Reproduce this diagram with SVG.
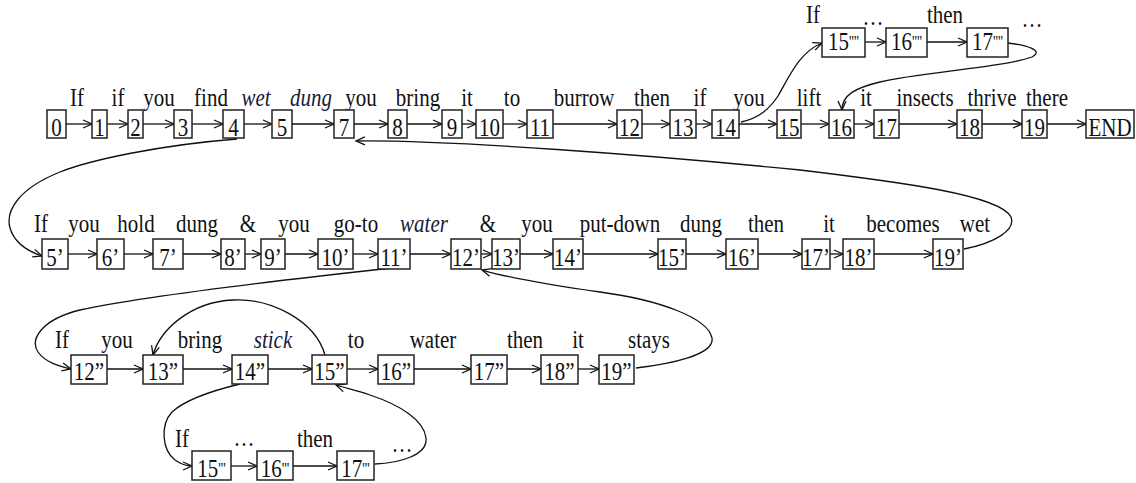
<svg xmlns="http://www.w3.org/2000/svg" width="1136" height="483" viewBox="0 0 1136 483">
<style>
.bg{fill:#fff}
rect.b{fill:#fff;stroke:#222;stroke-width:1.5}
text{font-family:"Liberation Serif","Times New Roman",serif;fill:#111;text-anchor:middle}
.w{font-size:21px}
.i{font-style:italic;fill:#1a1a3a}
.n{font-size:21px}
.p{font-size:14px}
.c path,.c line{fill:none;stroke:#111;stroke-width:1.3}
</style>
<defs>
<marker id="ah" markerUnits="userSpaceOnUse" markerWidth="12" markerHeight="12" refX="10" refY="5" orient="auto">
<path d="M1,1 L10,5 L1,9" fill="none" stroke="#111" stroke-width="1.3"/>
</marker>
</defs>
<rect class="bg" x="0" y="0" width="1136" height="483"/>

<g id="connectors" class="c">
<g marker-end="url(#ah)">
<!-- row 1 -->
<line x1="66" y1="124" x2="92" y2="124"/>
<line x1="107" y1="124" x2="128" y2="124"/>
<line x1="143" y1="124" x2="174" y2="124"/>
<line x1="192" y1="124" x2="223" y2="124"/>
<line x1="244" y1="124" x2="272" y2="124"/>
<line x1="292" y1="124" x2="334" y2="124"/>
<line x1="354" y1="124" x2="388" y2="124"/>
<line x1="407" y1="124" x2="442" y2="124"/>
<line x1="462" y1="124" x2="476" y2="124"/>
<line x1="503" y1="124" x2="527" y2="124"/>
<line x1="553" y1="124" x2="617" y2="124"/>
<line x1="642" y1="124" x2="670" y2="124"/>
<line x1="696" y1="124" x2="712" y2="124"/>
<line x1="739" y1="124" x2="777" y2="124"/>
<line x1="801" y1="124" x2="829" y2="124"/>
<line x1="854" y1="124" x2="874" y2="124"/>
<line x1="899" y1="124" x2="957" y2="124"/>
<line x1="982" y1="124" x2="1022" y2="124"/>
<line x1="1047" y1="124" x2="1086" y2="124"/>
<!-- top -->
<line x1="865" y1="42" x2="886" y2="42"/>
<line x1="927" y1="42" x2="967" y2="42"/>
<!-- row 2 -->
<line x1="68" y1="254" x2="97" y2="254"/>
<line x1="124" y1="254" x2="153" y2="254"/>
<line x1="183" y1="254" x2="221" y2="254"/>
<line x1="245" y1="254" x2="261" y2="254"/>
<line x1="285" y1="254" x2="318" y2="254"/>
<line x1="353" y1="254" x2="378" y2="254"/>
<line x1="410" y1="254" x2="451" y2="254"/>
<line x1="481" y1="254" x2="492" y2="254"/>
<line x1="520" y1="254" x2="553" y2="254"/>
<line x1="583" y1="254" x2="658" y2="254"/>
<line x1="686" y1="254" x2="726" y2="254"/>
<line x1="758" y1="254" x2="802" y2="254"/>
<line x1="830" y1="254" x2="843" y2="254"/>
<line x1="874" y1="254" x2="933" y2="254"/>
<!-- row 3 -->
<line x1="107" y1="369" x2="143" y2="369"/>
<line x1="183" y1="369" x2="232" y2="369"/>
<line x1="268" y1="369" x2="312" y2="369"/>
<line x1="347" y1="369" x2="378" y2="369"/>
<line x1="414" y1="369" x2="471" y2="369"/>
<line x1="507" y1="369" x2="541" y2="369"/>
<line x1="578" y1="369" x2="599" y2="369"/>
<!-- row 4 -->
<line x1="231" y1="466" x2="257" y2="466"/>
<line x1="293" y1="466" x2="337" y2="466"/>
<!-- curves -->
<path d="M237,139 C160,145 90,160 60,172 C20,188 5,210 10,228 C15,245 30,252 42,256"/>
<path d="M964,249 C995,243 1016,230 1011,217 C1000,195 900,182 800,170 C650,155 450,140 356,141"/>
<path d="M741,122 C760,118 770,108 778,96 C790,75 800,52 822,43"/>
<path d="M1008,43 C1025,45 1045,50 1032,57 C1000,68 920,72 880,82 C855,88 842,95 842,110"/>
<path d="M392,268 C300,278 150,295 80,310 C40,320 30,340 38,352 C45,362 58,366 71,369"/>
<path d="M636,368 C670,364 715,355 712,338 C708,318 660,300 600,292 C550,285 510,278 482,270"/>
<path d="M325,355 C315,320 270,298 233,300 C190,302 160,330 153,355"/>
<path d="M240,384 C215,390 185,400 172,412 C160,425 162,450 175,460 C182,465 187,466 192,466"/>
<path d="M375,464 C400,463 428,455 426,438 C424,420 400,405 370,395 C355,390 345,388 336,385"/>
</g>
</g>

<g id="labels">
<text class="w" transform="translate(77 106) scale(1 1.15)">If</text>
<text class="w" transform="translate(118 106) scale(1 1.15)">if</text>
<text class="w" transform="translate(159 106) scale(1 1.15)">you</text>
<text class="w" transform="translate(211 106) scale(1 1.15)">find</text>
<text class="w i" transform="translate(256 106) scale(1 1.15)">wet</text>
<text class="w i" transform="translate(311 106) scale(1 1.15)">dung</text>
<text class="w" transform="translate(361 106) scale(1 1.15)">you</text>
<text class="w" transform="translate(418 106) scale(1 1.15)">bring</text>
<text class="w" transform="translate(467 106) scale(1 1.15)">it</text>
<text class="w" transform="translate(512 106) scale(1 1.15)">to</text>
<text class="w" transform="translate(584 106) scale(1 1.15)">burrow</text>
<text class="w" transform="translate(652 106) scale(1 1.15)">then</text>
<text class="w" transform="translate(700 106) scale(1 1.15)">if</text>
<text class="w" transform="translate(749 106) scale(1 1.15)">you</text>
<text class="w" transform="translate(809 106) scale(1 1.15)">lift</text>
<text class="w" transform="translate(866 106) scale(1 1.15)">it</text>
<text class="w" transform="translate(925 106) scale(1 1.15)">insects</text>
<text class="w" transform="translate(992 106) scale(1 1.15)">thrive</text>
<text class="w" transform="translate(1047 106) scale(1 1.15)">there</text>

<text class="w" transform="translate(813 23) scale(1 1.15)">If</text>
<text class="w" transform="translate(873 25) scale(1 1.15)">…</text>
<text class="w" transform="translate(945 23) scale(1 1.15)">then</text>
<text class="w" transform="translate(1032 27) scale(1 1.15)">…</text>

<text class="w" transform="translate(41 232) scale(1 1.15)">If</text>
<text class="w" transform="translate(84 232) scale(1 1.15)">you</text>
<text class="w" transform="translate(136 232) scale(1 1.15)">hold</text>
<text class="w" transform="translate(197 232) scale(1 1.15)">dung</text>
<text class="w" transform="translate(248 232) scale(1 1.15)">&amp;</text>
<text class="w" transform="translate(294 232) scale(1 1.15)">you</text>
<text class="w" transform="translate(356 232) scale(1 1.15)">go-to</text>
<text class="w i" transform="translate(424 232) scale(1 1.15)">water</text>
<text class="w" transform="translate(488 232) scale(1 1.15)">&amp;</text>
<text class="w" transform="translate(537 232) scale(1 1.15)">you</text>
<text class="w" transform="translate(620 232) scale(1 1.15)">put-down</text>
<text class="w" transform="translate(701 232) scale(1 1.15)">dung</text>
<text class="w" transform="translate(766 232) scale(1 1.15)">then</text>
<text class="w" transform="translate(829 232) scale(1 1.15)">it</text>
<text class="w" transform="translate(903 232) scale(1 1.15)">becomes</text>
<text class="w" transform="translate(975 232) scale(1 1.15)">wet</text>

<text class="w" transform="translate(62 348) scale(1 1.15)">If</text>
<text class="w" transform="translate(117 348) scale(1 1.15)">you</text>
<text class="w" transform="translate(200 348) scale(1 1.15)">bring</text>
<text class="w i" transform="translate(273 348) scale(1 1.15)">stick</text>
<text class="w" transform="translate(356 348) scale(1 1.15)">to</text>
<text class="w" transform="translate(433 348) scale(1 1.15)">water</text>
<text class="w" transform="translate(525 348) scale(1 1.15)">then</text>
<text class="w" transform="translate(578 348) scale(1 1.15)">it</text>
<text class="w" transform="translate(649 348) scale(1 1.15)">stays</text>

<text class="w" transform="translate(182 447) scale(1 1.15)">If</text>
<text class="w" transform="translate(244 446) scale(1 1.15)">…</text>
<text class="w" transform="translate(315 447) scale(1 1.15)">then</text>
<text class="w" transform="translate(402 452) scale(1 1.15)">…</text>
</g>

<!-- row 1 nodes -->
<g id="n0"><rect class="b" x="47" y="110" width="19" height="28"/><text class="n" transform="translate(56.5 136) scale(1 1.15)">0</text></g>
<g id="n1"><rect class="b" x="92" y="110" width="15" height="28"/><text class="n" transform="translate(99.5 136) scale(1 1.15)">1</text></g>
<g id="n2"><rect class="b" x="128" y="110" width="15" height="28"/><text class="n" transform="translate(135.5 136) scale(1 1.15)">2</text></g>
<g id="n3"><rect class="b" x="174" y="110" width="18" height="28"/><text class="n" transform="translate(183 136) scale(1 1.15)">3</text></g>
<g id="n4"><rect class="b" x="223" y="110" width="21" height="28"/><text class="n" transform="translate(233.5 136) scale(1 1.15)">4</text></g>
<g id="n5"><rect class="b" x="272" y="110" width="20" height="28"/><text class="n" transform="translate(282 136) scale(1 1.15)">5</text></g>
<g id="n7"><rect class="b" x="334" y="110" width="20" height="28"/><text class="n" transform="translate(344 136) scale(1 1.15)">7</text></g>
<g id="n8"><rect class="b" x="388" y="110" width="19" height="28"/><text class="n" transform="translate(397.5 136) scale(1 1.15)">8</text></g>
<g id="n9"><rect class="b" x="442" y="110" width="20" height="28"/><text class="n" transform="translate(452 136) scale(1 1.15)">9</text></g>
<g id="n10"><rect class="b" x="476" y="110" width="27" height="28"/><text class="n" transform="translate(489.5 136) scale(1 1.15)">10</text></g>
<g id="n11"><rect class="b" x="527" y="110" width="26" height="28"/><text class="n" transform="translate(540 136) scale(1 1.15)">11</text></g>
<g id="n12"><rect class="b" x="617" y="110" width="25" height="28"/><text class="n" transform="translate(629.5 136) scale(1 1.15)">12</text></g>
<g id="n13"><rect class="b" x="670" y="110" width="26" height="28"/><text class="n" transform="translate(683 136) scale(1 1.15)">13</text></g>
<g id="n14"><rect class="b" x="712" y="110" width="27" height="28"/><text class="n" transform="translate(725.5 136) scale(1 1.15)">14</text></g>
<g id="n15"><rect class="b" x="777" y="110" width="24" height="28"/><text class="n" transform="translate(789 136) scale(1 1.15)">15</text></g>
<g id="n16"><rect class="b" x="829" y="110" width="25" height="28"/><text class="n" transform="translate(841.5 136) scale(1 1.15)">16</text></g>
<g id="n17"><rect class="b" x="874" y="110" width="25" height="28"/><text class="n" transform="translate(886.5 136) scale(1 1.15)">17</text></g>
<g id="n18"><rect class="b" x="957" y="110" width="25" height="28"/><text class="n" transform="translate(969.5 136) scale(1 1.15)">18</text></g>
<g id="n19"><rect class="b" x="1022" y="110" width="25" height="28"/><text class="n" transform="translate(1034.5 136) scale(1 1.15)">19</text></g>
<g id="nEND"><rect class="b" x="1086" y="110" width="48" height="28"/><text class="n" transform="translate(1110 136) scale(1 1.15)">END</text></g>

<!-- top row -->
<g id="n15q"><rect class="b" x="822" y="28" width="43" height="29"/><text class="n" transform="translate(843.5 50) scale(1 1.15)">15<tspan class="p" dy="-3">''''</tspan></text></g>
<g id="n16q"><rect class="b" x="886" y="28" width="41" height="29"/><text class="n" transform="translate(906.5 50) scale(1 1.15)">16<tspan class="p" dy="-3">''''</tspan></text></g>
<g id="n17q"><rect class="b" x="967" y="28" width="41" height="29"/><text class="n" transform="translate(987.5 50) scale(1 1.15)">17<tspan class="p" dy="-3">''''</tspan></text></g>

<!-- row 2 -->
<g id="n5p"><rect class="b" x="42" y="239" width="26" height="30"/><text class="n" transform="translate(55 266) scale(1 1.15)">5’</text></g>
<g id="n6p"><rect class="b" x="97" y="239" width="27" height="30"/><text class="n" transform="translate(110.5 266) scale(1 1.15)">6’</text></g>
<g id="n7p"><rect class="b" x="153" y="239" width="30" height="30"/><text class="n" transform="translate(168 266) scale(1 1.15)">7’</text></g>
<g id="n8p"><rect class="b" x="221" y="239" width="24" height="30"/><text class="n" transform="translate(233 266) scale(1 1.15)">8’</text></g>
<g id="n9p"><rect class="b" x="261" y="239" width="24" height="30"/><text class="n" transform="translate(273 266) scale(1 1.15)">9’</text></g>
<g id="n10p"><rect class="b" x="318" y="239" width="35" height="30"/><text class="n" transform="translate(335.5 266) scale(1 1.15)">10’</text></g>
<g id="n11p"><rect class="b" x="378" y="239" width="32" height="30"/><text class="n" transform="translate(394 266) scale(1 1.15)">11’</text></g>
<g id="n12p"><rect class="b" x="451" y="239" width="30" height="30"/><text class="n" transform="translate(466 266) scale(1 1.15)">12’</text></g>
<g id="n13p"><rect class="b" x="492" y="239" width="28" height="30"/><text class="n" transform="translate(506 266) scale(1 1.15)">13’</text></g>
<g id="n14p"><rect class="b" x="553" y="239" width="30" height="30"/><text class="n" transform="translate(568 266) scale(1 1.15)">14’</text></g>
<g id="n15p"><rect class="b" x="658" y="239" width="28" height="30"/><text class="n" transform="translate(672 266) scale(1 1.15)">15’</text></g>
<g id="n16p"><rect class="b" x="726" y="239" width="32" height="30"/><text class="n" transform="translate(742 266) scale(1 1.15)">16’</text></g>
<g id="n17p"><rect class="b" x="802" y="239" width="28" height="30"/><text class="n" transform="translate(816 266) scale(1 1.15)">17’</text></g>
<g id="n18p"><rect class="b" x="843" y="239" width="31" height="30"/><text class="n" transform="translate(858.5 266) scale(1 1.15)">18’</text></g>
<g id="n19p"><rect class="b" x="933" y="239" width="30" height="30"/><text class="n" transform="translate(948 266) scale(1 1.15)">19’</text></g>

<!-- row 3 -->
<g id="n12pp"><rect class="b" x="71" y="355" width="36" height="29"/><text class="n" transform="translate(89 380) scale(1 1.15)">12”</text></g>
<g id="n13pp"><rect class="b" x="143" y="355" width="40" height="29"/><text class="n" transform="translate(163 380) scale(1 1.15)">13”</text></g>
<g id="n14pp"><rect class="b" x="232" y="355" width="36" height="29"/><text class="n" transform="translate(250 380) scale(1 1.15)">14”</text></g>
<g id="n15pp"><rect class="b" x="312" y="355" width="35" height="29"/><text class="n" transform="translate(329.5 380) scale(1 1.15)">15”</text></g>
<g id="n16pp"><rect class="b" x="378" y="355" width="36" height="29"/><text class="n" transform="translate(396 380) scale(1 1.15)">16”</text></g>
<g id="n17pp"><rect class="b" x="471" y="355" width="36" height="29"/><text class="n" transform="translate(489 380) scale(1 1.15)">17”</text></g>
<g id="n18pp"><rect class="b" x="541" y="355" width="37" height="29"/><text class="n" transform="translate(559.5 380) scale(1 1.15)">18”</text></g>
<g id="n19pp"><rect class="b" x="599" y="355" width="35" height="29"/><text class="n" transform="translate(616.5 380) scale(1 1.15)">19”</text></g>

<!-- row 4 -->
<g id="n15ppp"><rect class="b" x="192" y="451" width="39" height="29"/><text class="n" transform="translate(211.5 477) scale(1 1.15)">15<tspan class="p" dy="-3">'''</tspan></text></g>
<g id="n16ppp"><rect class="b" x="257" y="451" width="36" height="29"/><text class="n" transform="translate(275 477) scale(1 1.15)">16<tspan class="p" dy="-3">'''</tspan></text></g>
<g id="n17ppp"><rect class="b" x="337" y="451" width="37" height="29"/><text class="n" transform="translate(355.5 477) scale(1 1.15)">17<tspan class="p" dy="-3">'''</tspan></text></g>
</svg>
